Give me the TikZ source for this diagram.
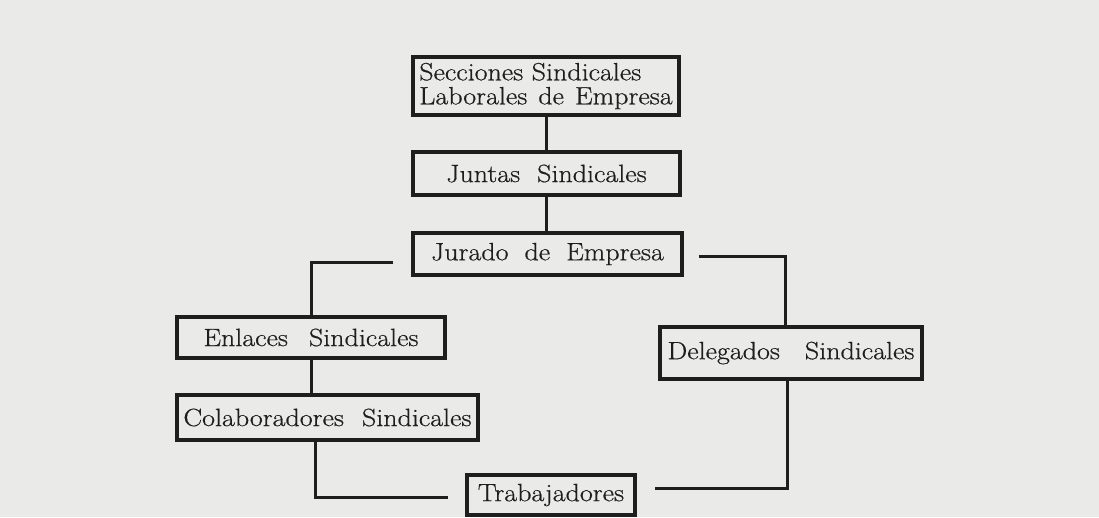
\documentclass[tikz,border=0pt]{standalone}
\usepackage{fontspec}
\usetikzlibrary{calc}
\newfontfamily\cajafont{Latin Modern Roman}[FakeStretch=1.12,FakeBold=0.6]
\definecolor{paper}{RGB}{234,234,232}
\definecolor{ink}{RGB}{30,30,30}
\tikzset{
	caja/.style 2 args={draw=ink,line width=3.2pt,minimum width=#1,minimum height=#2,inner sep=0pt,font=\cajafont\fontsize{25}{24}\selectfont,text=ink},
	linea/.style={draw=ink,line width=3pt},
}

\begin{document}
\begin{tikzpicture}[x=1pt,y=-1pt]
	\fill[paper] (0,0) rectangle (1099,517);
	\useasboundingbox (0,0) rectangle (1099,517);
	% cajas
	\node[caja={266}{58},align=left] (secc) at (546,86) {Secciones Sindicales\\Laborales\hspace{11pt}de\hspace{11pt}Empresa};
	\node[caja={267}{43}] (juntas) at (546.5,173.5) {Juntas\hspace{17pt}Sindicales};
	\node[caja={269}{42}] (jurado) at (547.5,254) {Jurado\hspace{16pt}de\hspace{16pt}Empresa};
	\node[caja={268}{41}] (enlaces) at (311,337.5) {Enlaces\hspace{21pt}Sindicales};
	\node[caja={301}{45}] (colab) at (327.5,417.5) {Colaboradores\hspace{18pt}Sindicales};
	\node[caja={262}{52}] (deleg) at (791,353) {Delegados\hspace{25pt}Sindicales};
	\node[caja={168}{40}] (trab) at (551,495) {Trabajadores};
	% uniones
	\draw[linea] (secc.south) -- (secc.south |- juntas.north);
	\draw[linea] (juntas.south) -- (juntas.south |- jurado.north);
	\draw[linea] ($(jurado.west)+(-18,8)$) -| (enlaces.north);
	\draw[linea] ($(jurado.east)+(15,2)$) -| ($(deleg.north)+(-6,0)$);
	\draw[linea] (enlaces.south) -- (enlaces.south |- colab.north);
	\draw[linea] ($(colab.south)+(-12,0)$) |- ($(trab.west)+(-17,2)$);
	\draw[linea] ($(deleg.south)+(-4,0)$) |- ($(trab.east)+(18,-7)$);
\end{tikzpicture}
\end{document}
